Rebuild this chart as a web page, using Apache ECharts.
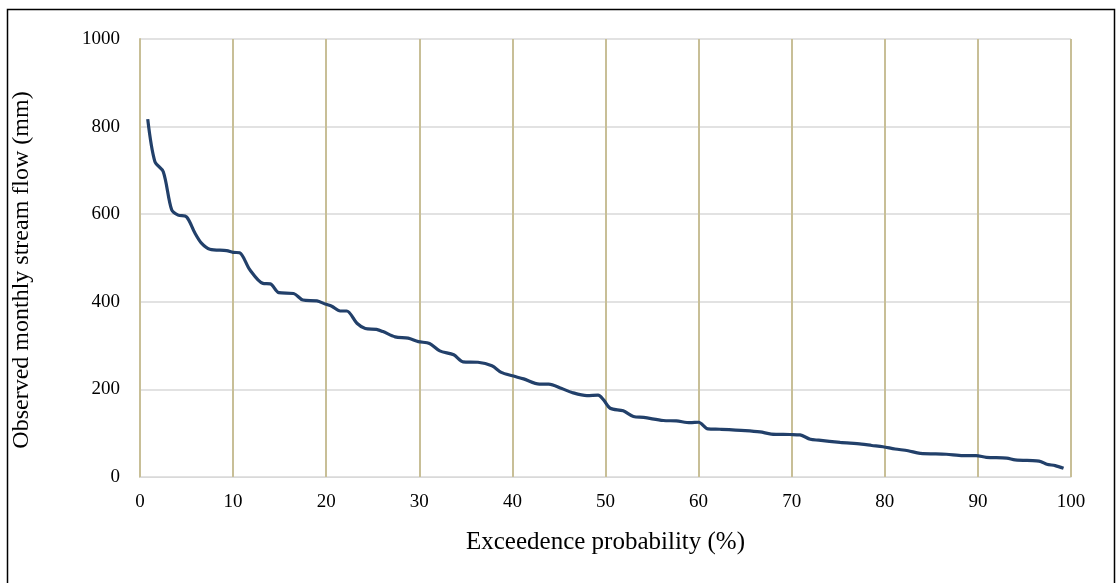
<!DOCTYPE html>
<html>
<head>
<meta charset="utf-8">
<script src="https://cdn.jsdelivr.net/npm/echarts@6/dist/echarts.min.js"></script>
<style>
html,body{margin:0;padding:0;background:#fff;}
#chart{width:1117px;height:583px;}
</style>
</head>
<body>
<div id="chart"></div>
<script>
const probability = [0.83,1.6,2.5,3.4,4.1,5.0,5.9,6.6,7.5,9.3,10.0,10.7,11.8,13.2,14.0,14.9,16.5,17.5,19.0,19.9,20.6,21.5,22.2,23.3,24.2,25.4,26.1,27.4,28.8,29.9,31.1,32.2,33.7,34.7,36.3,37.8,38.8,40.0,41.2,42.9,43.9,45.3,46.4,48.0,49.2,49.8,50.5,51.9,53.0,54.1,56.2,57.6,59.1,60.0,61.0,62.3,65.0,66.6,67.8,69.8,70.9,72.0,72.9,75.2,77.5,78.6,79.8,81.1,82.5,83.8,86.6,88.4,89.8,90.9,93.1,94.0,96.3,96.8,97.4,98.3,99.2];
const flow = [817,720,697,610,598,594,557,534,520,517,513,512,473,442,441,421,419,404,402,395,390,379,379,351,339,337,332,320,317,309,305,288,279,263,262,254,239,231,224,212,212,202,193,186,187,176,157,151,138,136,129,128,124,125,110,109,106,103,98,97,96,86,84,79,75,72,69,64,60,54,52,49,49,45,43,39,37,35,29,26,20];
const xTicks = [0,10,20,30,40,50,60,70,80,90,100];
const yTicks = [0,200,400,600,800,1000];
const xTitle = 'Exceedence probability (%)';
const yTitle = 'Observed monthly stream flow (mm)';

const seriesData = probability.map((p,i)=>[p, flow[i]]);
const serif = '"Liberation Serif","DejaVu Serif",serif';
const chart = echarts.init(document.getElementById('chart'));
chart.setOption({
  animation:false,
  backgroundColor:'#fff',
  grid:{left:140,right:46,top:39,bottom:106,containLabel:false},
  graphic:[
    {type:'rect',shape:{x:7.5,y:9.5,width:1107,height:620},style:{fill:'none',stroke:'#000',lineWidth:1.5},z:100},
    {type:'text',x:22,y:270,rotation:Math.PI/2,style:{text:yTitle,fontFamily:serif,fontSize:24,fill:'#000',align:'center',verticalAlign:'middle'}}
  ],
  xAxis:{
    type:'value',min:xTicks[0],max:xTicks[xTicks.length-1],interval:10,
    name:xTitle,nameLocation:'middle',nameGap:53,
    nameTextStyle:{fontFamily:serif,fontSize:25,color:'#000'},
    axisLine:{show:true,lineStyle:{color:'#d9d9d9',width:1}},
    axisTick:{show:false},
    axisLabel:{fontFamily:serif,fontSize:19,color:'#000',margin:16},
    splitLine:{show:true,lineStyle:{color:'#c8bf97',width:2}}
  },
  yAxis:{
    type:'value',min:yTicks[0],max:yTicks[yTicks.length-1],interval:200,
    axisLine:{show:true,lineStyle:{color:'#c8bf97',width:2}},
    axisTick:{show:false},
    axisLabel:{fontFamily:serif,fontSize:19,color:'#000',margin:20,formatter:v=>String(v)},
    splitLine:{show:true,lineStyle:{color:'#d9d9d9',width:1.5}}
  },
  series:[{
    type:'line',data:seriesData,smooth:0.3,symbol:'none',
    lineStyle:{color:'#22406a',width:3.2},z:10
  }]
});
</script>
</body>
</html>
